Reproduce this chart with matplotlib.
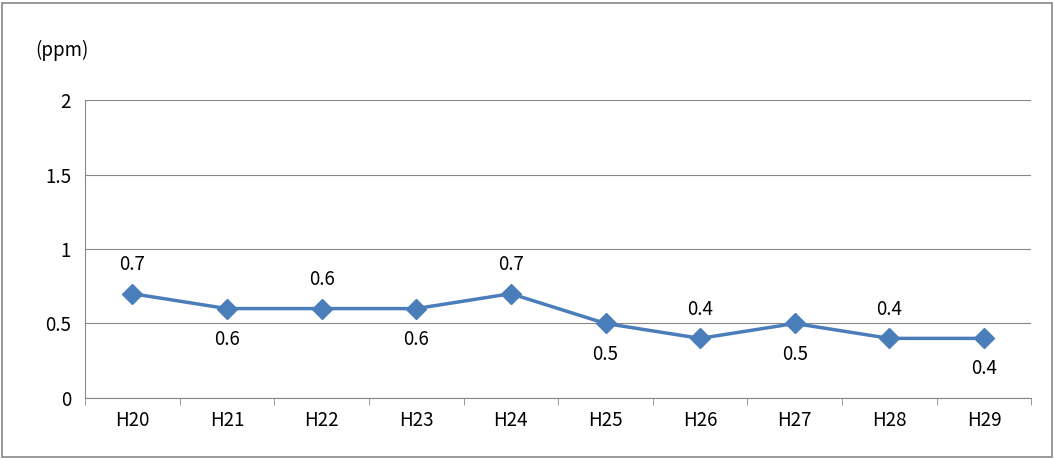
import matplotlib
matplotlib.use('Agg')
import matplotlib.pyplot as plt
from matplotlib.patches import Rectangle

# données
years = ['H20', 'H21', 'H22', 'H23', 'H24', 'H25', 'H26', 'H27', 'H28', 'H29']
values = [0.7, 0.6, 0.6, 0.6, 0.7, 0.5, 0.4, 0.5, 0.4, 0.4]
label_above = [True, False, True, False, True, False, True, False, True, False]

plt.rcParams['font.family'] = ['Noto Sans CJK JP', 'DejaVu Sans']

fig = plt.figure(figsize=(10.54, 4.59), dpi=100)
ax = fig.add_axes([0.0806, 0.133, 0.898, 0.649])
fig.patches.append(Rectangle((0.002, 0.004), 0.996, 0.99, transform=fig.transFigure,
                             fill=False, edgecolor='#888888', linewidth=1.2))

xs = list(range(len(years)))
ax.plot(xs, values, color='#4A7EBB', linewidth=2.5, marker='D', markersize=10, zorder=3)

for x, v, up in zip(xs, values, label_above):
    ax.annotate(f'{v}', (x, v), xytext=(0, 21 if up else -22), textcoords='offset points',
                ha='center', va='center', fontsize=13.5)

ax.set_xlim(-0.5, 9.5)
ax.set_ylim(0, 2)
ax.set_yticks([0, 0.5, 1, 1.5, 2])
ax.set_yticklabels(['0', '0.5', '1', '1.5', '2'])
ax.set_xticks(xs)
ax.set_xticklabels(years)
ax.set_xticks([i - 0.5 for i in range(11)], minor=True)
ax.tick_params(axis='x', which='major', length=0, labelsize=13.5, pad=9)
ax.tick_params(axis='x', which='minor', length=5, color='#888888')
ax.tick_params(axis='y', length=0, labelsize=13.5, pad=10)
ax.grid(axis='y', color='#888888', linewidth=0.8)
ax.set_axisbelow(True)
for s in ['top', 'right']:
    ax.spines[s].set_visible(False)
ax.spines['left'].set_color('#888888')
ax.spines['bottom'].set_color('#888888')

fig.text(0.033, 0.89, '(ppm)', fontsize=13.5, ha='left', va='center')

fig.savefig('out.png', dpi=100)
